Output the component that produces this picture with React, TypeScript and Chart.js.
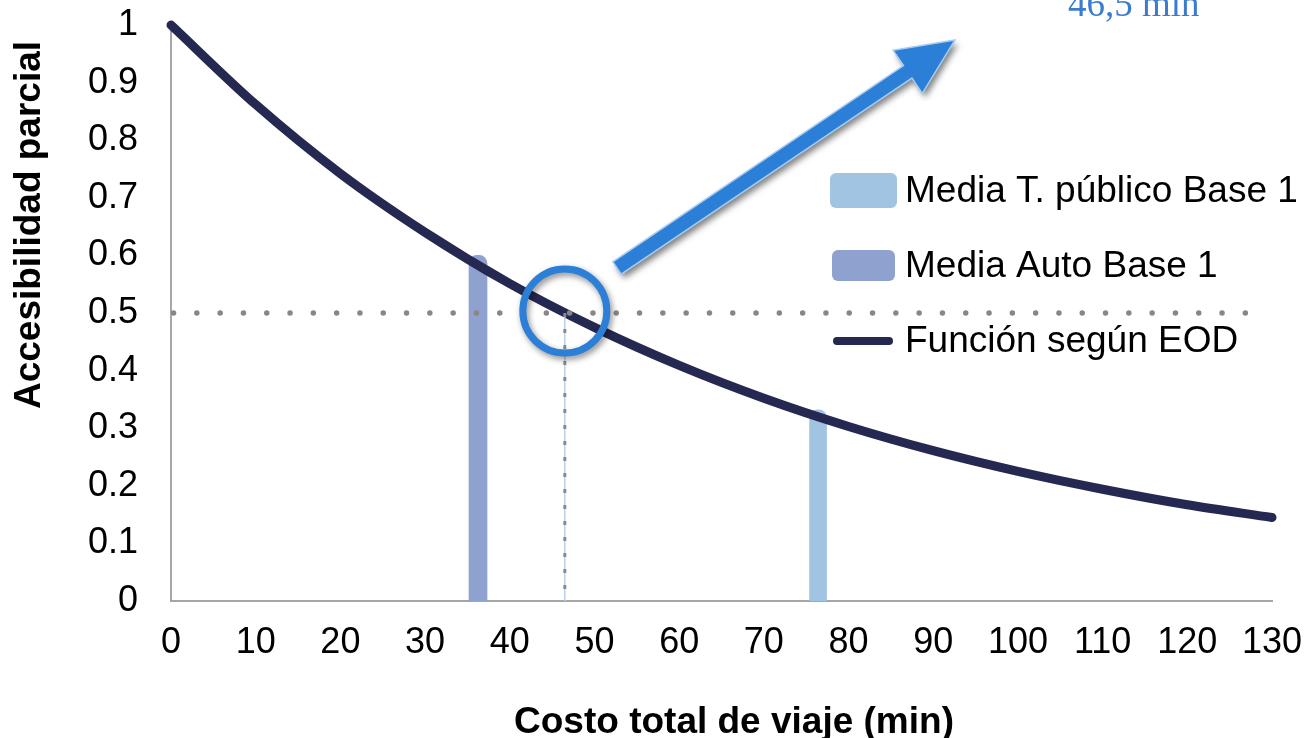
import React, { useEffect, useRef } from "react";
import { Chart, registerables } from "chart.js";

Chart.register(...registerables);

// ---- data ----
const curveX = [0, 10, 20, 30, 40, 50, 60, 70, 80, 90, 100, 110, 120, 130];
const curveY = [1.0, 0.862, 0.742, 0.64, 0.551, 0.475, 0.409, 0.352, 0.303, 0.261, 0.225, 0.194, 0.167, 0.145];
const autoX = [36.25];
const autoY = [0.6];
const publicoX = [76.4];
const publicoY = [0.332];
const refX = 46.5;
const refY = 0.5;
const hDotX = [0.3, 127.5];
const seriesNames = ["Media T. público Base 1", "Media Auto Base 1", "Función según EOD"];
const xTitle = "Costo total de viaje (min)";
const yTitle = "Accesibilidad parcial";
const annotationText = "46,5 min";
const xMin = 0, xMax = 130, xStep = 10;
const yMin = 0, yMax = 1, yStep = 0.1;

const COL_PUB = "#A2C4E3";
const COL_AUTO = "#8FA1CF";
const COL_CURVE = "#252851";
const COL_BLUE = "#2B7FD6";
const FONT = "'Liberation Sans', Arial, sans-serif";

const overlayPlugin = {
  id: "overlay",
  afterDatasetsDraw(chart: any) {
    const ctx = chart.ctx;
    const xs = chart.scales.x;
    const ys = chart.scales.y;
    // circle
    const cx = xs.getPixelForValue(refX);
    const cy = ys.getPixelForValue(refY) - 2;
    ctx.save();
    ctx.shadowColor = "rgba(0,0,0,0.45)";
    ctx.shadowBlur = 6;
    ctx.shadowOffsetX = 2;
    ctx.shadowOffsetY = 3;
    ctx.strokeStyle = COL_BLUE;
    ctx.lineWidth = 7;
    ctx.beginPath();
    ctx.arc(cx, cy, 42, 0, Math.PI * 2);
    ctx.stroke();
    ctx.restore();

    // arrow
    const x0 = 617, y0 = 268, x1 = 955, y1 = 40;
    const ang = Math.atan2(y1 - y0, x1 - x0);
    const L = Math.hypot(x1 - x0, y1 - y0);
    const headL = 57, headW = 26, shaftW = 7.5;
    ctx.save();
    ctx.translate(x0, y0);
    ctx.rotate(ang);
    ctx.beginPath();
    ctx.moveTo(0, -shaftW);
    ctx.lineTo(L - headL, -shaftW);
    ctx.lineTo(L - headL, -headW);
    ctx.lineTo(L, 0);
    ctx.lineTo(L - headL, headW);
    ctx.lineTo(L - headL, shaftW);
    ctx.lineTo(0, shaftW);
    ctx.closePath();
    ctx.save();
    ctx.shadowColor = "rgba(0,0,0,0.5)";
    ctx.shadowBlur = 6;
    ctx.shadowOffsetX = 3;
    ctx.shadowOffsetY = 4;
    ctx.fillStyle = COL_BLUE;
    ctx.fill();
    ctx.restore();
    ctx.strokeStyle = "#A5CBF3";
    ctx.lineWidth = 1.5;
    ctx.lineJoin = "miter";
    ctx.stroke();
    ctx.restore();

    // annotation text
    ctx.save();
    ctx.font = "37px 'Liberation Serif', 'Times New Roman', serif";
    ctx.fillStyle = "#3C7CCF";
    ctx.textAlign = "left";
    ctx.textBaseline = "alphabetic";
    ctx.fillText(annotationText, 1068, 16);
    ctx.restore();

    // legend
    ctx.save();
    ctx.fillStyle = COL_PUB;
    ctx.beginPath();
    ctx.roundRect(830, 173, 67, 35, 6);
    ctx.fill();
    ctx.fillStyle = COL_AUTO;
    ctx.beginPath();
    ctx.roundRect(832, 250, 63, 31, 6);
    ctx.fill();
    ctx.strokeStyle = COL_CURVE;
    ctx.lineWidth = 8;
    ctx.lineCap = "round";
    ctx.beginPath();
    ctx.moveTo(837, 341);
    ctx.lineTo(889, 341);
    ctx.stroke();
    ctx.fillStyle = "#000";
    ctx.font = `37px ${FONT}`;
    ctx.textAlign = "left";
    ctx.textBaseline = "middle";
    ctx.fillText(seriesNames[0], 905, 192);
    ctx.fillText(seriesNames[1], 905, 267);
    ctx.fillText(seriesNames[2], 905, 342);
    ctx.restore();

    // axis titles
    ctx.save();
    ctx.fillStyle = "#000";
    ctx.font = `bold 37px ${FONT}`;
    ctx.textAlign = "center";
    ctx.textBaseline = "alphabetic";
    ctx.fillText(xTitle, 734, 733);
    ctx.translate(40, 225);
    ctx.rotate(-Math.PI / 2);
    ctx.font = `bold 37px ${FONT}`;
    ctx.fillText(yTitle, 0, 0);
    ctx.restore();
  },
};

export default function App() {
  const ref = useRef<HTMLCanvasElement | null>(null);
  useEffect(() => {
    if (!ref.current) return;
    const chart = new Chart(ref.current, {
      type: "bar",
      data: {
        datasets: [
          {
            type: "line",
            label: "ref-h",
            data: hDotX.map((x) => ({ x, y: refY })),
            borderColor: "#878787",
            borderWidth: 5.5,
            borderDash: [0, 23.3],
            borderCapStyle: "round",
            pointRadius: 0,
            order: 0,
            clip: false,
          } as any,
          {
            type: "line",
            label: "ref-v-dash",
            data: [
              { x: refX, y: refY },
              { x: refX, y: yMin },
            ],
            borderColor: "#8a8a8a",
            borderWidth: 3,
            borderDash: [4, 12],
            pointRadius: 0,
            order: 0,
          } as any,
          {
            type: "line",
            label: "ref-v",
            data: [
              { x: refX, y: refY },
              { x: refX, y: yMin },
            ],
            borderColor: "#B9D0EC",
            borderWidth: 1.5,
            pointRadius: 0,
            order: 1,
          } as any,
          {
            type: "line",
            label: seriesNames[2],
            data: curveX.map((x, i) => ({ x, y: curveY[i] })),
            borderColor: COL_CURVE,
            borderWidth: 9,
            borderCapStyle: "round",
            cubicInterpolationMode: "monotone",
            pointRadius: 0,
            order: 2,
            clip: false,
          } as any,
          {
            type: "bar",
            label: seriesNames[0],
            data: publicoX.map((x, i) => ({ x, y: publicoY[i] })),
            backgroundColor: COL_PUB,
            barThickness: 17,
            grouped: false,
            borderRadius: { topLeft: 8, topRight: 8, bottomLeft: 0, bottomRight: 0 },
            borderSkipped: false,
            order: 3,
          } as any,
          {
            type: "bar",
            label: seriesNames[1],
            data: autoX.map((x, i) => ({ x, y: autoY[i] })),
            backgroundColor: COL_AUTO,
            barThickness: 18,
            grouped: false,
            borderRadius: { topLeft: 8, topRight: 8, bottomLeft: 0, bottomRight: 0 },
            borderSkipped: false,
            order: 3,
          } as any,
        ],
      },
      options: {
        animation: false,
        responsive: true,
        maintainAspectRatio: false,
        layout: { padding: { top: 25, right: 33, left: 0, bottom: 0 } },
        plugins: {
          legend: { display: false },
          tooltip: { enabled: false },
        },
        scales: {
          x: {
            type: "linear",
            min: xMin,
            max: xMax,
            offset: false,
            grid: { display: false, drawTicks: false },
            border: { display: true, color: "#A6A6A6", width: 2 },
            ticks: {
              stepSize: xStep,
              color: "#000",
              font: { family: FONT, size: 36 },
              padding: 20,
              maxRotation: 0,
              autoSkip: false,
            },
            afterFit: (s: any) => {
              s.height = 137;
              s.paddingLeft = 0;
              s.paddingRight = 0;
            },
          },
          y: {
            type: "linear",
            min: yMin,
            max: yMax,
            grid: { display: false, drawTicks: false },
            border: { display: true, color: "#A6A6A6", width: 2 },
            ticks: {
              stepSize: yStep,
              color: "#000",
              font: { family: FONT, size: 36 },
              padding: 33,
              autoSkip: false,
              callback: (v: any) => String(Math.round(Number(v) * 10) / 10),
            },
            afterFit: (s: any) => {
              s.width = 171;
              s.paddingTop = 0;
              s.paddingBottom = 0;
            },
          },
        },
      } as any,
      plugins: [overlayPlugin],
    });
    return () => chart.destroy();
  }, []);
  return (
    <div style={{ position: "fixed", left: 0, top: 0, width: 1305, height: 738, background: "#fff" }}>
      <canvas ref={ref} />
    </div>
  );
}
